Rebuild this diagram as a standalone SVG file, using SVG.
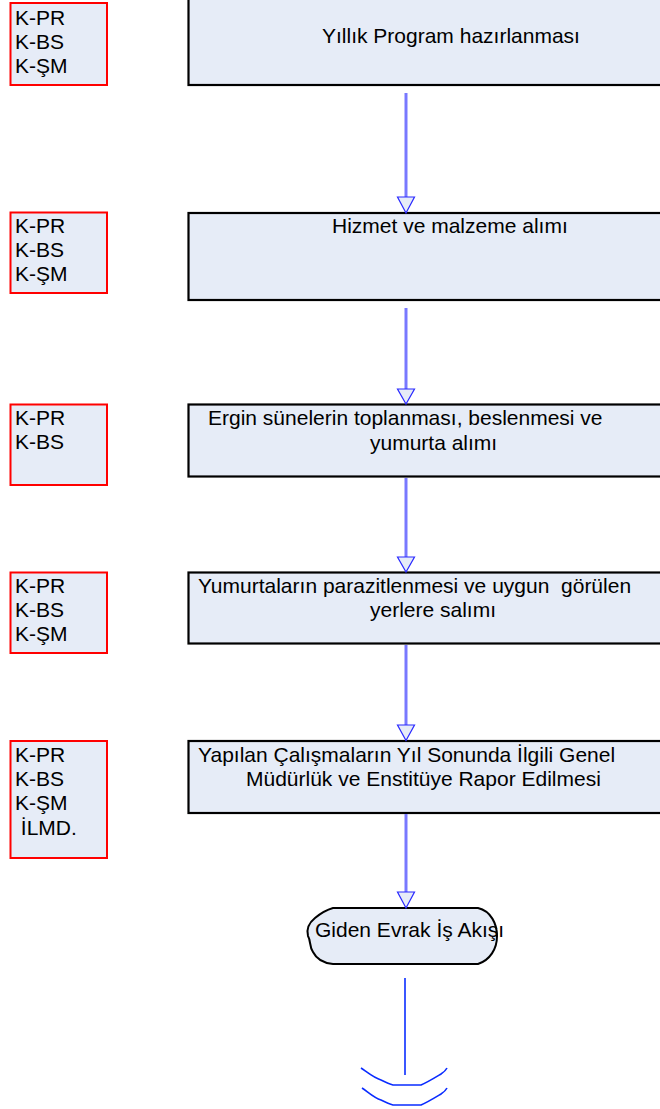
<svg xmlns="http://www.w3.org/2000/svg" width="660" height="1109" viewBox="0 0 660 1109">
<defs>
<style>
.t{font-family:"Liberation Sans",Arial,sans-serif;font-size:21px;fill:#000;white-space:pre}
.rb{fill:#e6ecf7;stroke:#ff0000;stroke-width:2}
.bb{fill:#e6ecf7;stroke:#000;stroke-width:2.2}
.al{stroke:#7878ff;stroke-width:3;fill:none}
.ah{fill:#e6ecf7;stroke:#2a2aff;stroke-width:1.2}
.bl{stroke:#0a2cff;stroke-width:1.6;fill:none}
</style>
</defs>
<rect width="660" height="1109" fill="#fff"/>
<g id="roles1">
<rect class="rb" x="10.5" y="3" width="96.5" height="82"/>
<text class="t" x="15" y="25">K-PR</text>
<text class="t" x="15" y="49">K-BS</text>
<text class="t" x="15" y="73">K-ŞM</text>
</g>
<g id="step1">
<rect class="bb" x="188.5" y="-5" width="490" height="90"/>
<text class="t" x="322" y="43">Yıllık Program hazırlanması</text>
</g>
<g id="roles2">
<rect class="rb" x="10.5" y="212.5" width="96.5" height="80.5"/>
<text class="t" x="15" y="233">K-PR</text>
<text class="t" x="15" y="257">K-BS</text>
<text class="t" x="15" y="281">K-ŞM</text>
</g>
<g id="step2">
<rect class="bb" x="188.5" y="213" width="490" height="87"/>
<text class="t" x="332" y="233">Hizmet ve malzeme alımı</text>
</g>
<g id="roles3">
<rect class="rb" x="10.5" y="404.5" width="96.5" height="80.5"/>
<text class="t" x="15" y="425">K-PR</text>
<text class="t" x="15" y="449">K-BS</text>
</g>
<g id="step3">
<rect class="bb" x="188.5" y="404.5" width="490" height="72"/>
<text class="t" x="208" y="425">Ergin sünelerin toplanması, beslenmesi ve</text>
<text class="t" x="370" y="450">yumurta alımı</text>
</g>
<g id="roles4">
<rect class="rb" x="10.5" y="572.5" width="96.5" height="80.5"/>
<text class="t" x="15" y="593">K-PR</text>
<text class="t" x="15" y="617">K-BS</text>
<text class="t" x="15" y="641">K-ŞM</text>
</g>
<g id="step4">
<rect class="bb" x="188.5" y="572.5" width="490" height="71"/>
<text class="t" x="198" y="593" xml:space="preserve">Yumurtaların parazitlenmesi ve uygun  görülen</text>
<text class="t" x="370" y="617">yerlere salımı</text>
</g>
<g id="roles5">
<rect class="rb" x="10.5" y="741" width="96.5" height="117"/>
<text class="t" x="15" y="762">K-PR</text>
<text class="t" x="15" y="786">K-BS</text>
<text class="t" x="15" y="810">K-ŞM</text>
<text class="t" x="15" y="835" xml:space="preserve"> İLMD.</text>
</g>
<g id="step5">
<rect class="bb" x="188.5" y="741" width="490" height="72"/>
<text class="t" x="198" y="762">Yapılan Çalışmaların Yıl Sonunda İlgili Genel</text>
<text class="t" x="246" y="786">Müdürlük ve Enstitüye Rapor Edilmesi</text>
</g>
<g id="end">
<path d="M333,908 L478,908 C491,911 497,924 497,936 C497,949 490,960 478,964 L333,964 C322,963 316,958 313,952 C309,946 311,941 308,936 C306,928 310,922 315,918 C321,913 326,910 333,908 Z" fill="#e6ecf7" stroke="#000" stroke-width="2"/>
<text class="t" x="315" y="937">Giden Evrak İş Akışı</text>
</g>
<g id="connectors">
<line class="al" x1="406" y1="93" x2="406" y2="198"/>
<path class="ah" d="M397.5,197 L414.5,197 L406,213 Z"/>
<line class="al" x1="406" y1="308" x2="406" y2="390"/>
<path class="ah" d="M397.5,389 L414.5,389 L406,404 Z"/>
<line class="al" x1="406" y1="478" x2="406" y2="558"/>
<path class="ah" d="M397.5,557 L414.5,557 L406,572 Z"/>
<line class="al" x1="406" y1="645" x2="406" y2="726"/>
<path class="ah" d="M397.5,725 L414.5,725 L406,740.5 Z"/>
<line class="al" x1="406" y1="814" x2="406" y2="893"/>
<path class="ah" d="M397.5,892 L414.5,892 L406,908 Z"/>
<line class="bl" x1="405" y1="978" x2="405" y2="1075"/>
<path class="bl" d="M361,1068 C367,1072 374,1078 381,1080 C385,1082 389,1084 393,1085 L421,1085 C428,1082 436,1077 441,1074 C444,1072 446,1070 447,1068"/>
<path class="bl" d="M362,1088 C368,1092 374,1098 381,1100 C385,1102 389,1104 393,1105 L421,1105 C428,1102 436,1097 441,1094 C444,1092 446,1090 447,1088"/>
</g>
</svg>
